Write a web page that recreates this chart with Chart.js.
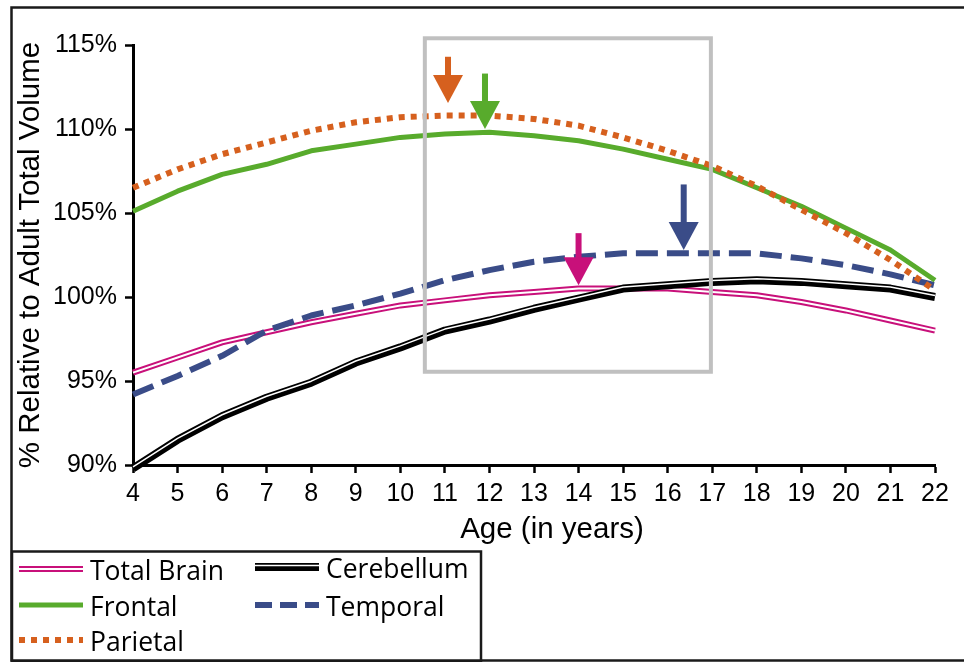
<!DOCTYPE html>
<html>
<head>
<meta charset="utf-8">
<script src="https://cdn.jsdelivr.net/npm/chart.js@4.4.1/dist/chart.umd.min.js"></script>
<style>
  html, body { margin: 0; padding: 0; background: #fff; }
  canvas { display: block; }
</style>
</head>
<body>
<canvas id="brainChart" width="964" height="662"></canvas>
<script>
// === DATA ===
const ages = [4, 5, 6, 7, 8, 9, 10, 11, 12, 13, 14, 15, 16, 17, 18, 19, 20, 21, 22];
const totalBrain = [95.5, 96.4, 97.3, 97.9, 98.5, 99.0, 99.5, 99.8, 100.1, 100.3, 100.5, 100.5, 100.5, 100.3, 100.1, 99.7, 99.2, 98.6, 98.0];
const cerebellum = [89.8, 91.5, 92.9, 94.0, 94.9, 96.1, 97.0, 98.0, 98.6, 99.3, 99.9, 100.5, 100.7, 100.9, 101.0, 100.9, 100.7, 100.5, 100.0];
const frontal = [105.1, 106.3, 107.3, 107.9, 108.7, 109.1, 109.5, 109.7, 109.8, 109.6, 109.3, 108.8, 108.2, 107.6, 106.5, 105.4, 104.1, 102.8, 101.0];
const temporal = [94.2, 95.3, 96.5, 98.0, 98.9, 99.5, 100.2, 101.0, 101.6, 102.1, 102.4, 102.6, 102.6, 102.6, 102.6, 102.3, 101.9, 101.35, 100.7];
const parietal = [106.5, 107.6, 108.5, 109.2, 109.9, 110.4, 110.7, 110.8, 110.8, 110.6, 110.2, 109.5, 108.7, 107.8, 106.6, 105.2, 103.8, 102.2, 100.4];
const yTicks = [90, 95, 100, 105, 110, 115];
const seriesNames = ['Total Brain', 'Cerebellum', 'Frontal', 'Temporal', 'Parietal'];
const xTitle = 'Age (in years)';

// highlighted age window and peak arrows (data units)
const boxAges = [10.55, 16.97];
const boxLevels = [95.55, 115.4];
const arrowAges = [11.07, 11.9, 14.0, 16.36];
const arrowTops = [114.3, 113.3, 103.8, 106.7];
const arrowTips = [111.55, 110.0, 100.7, 102.8];
const arrowColors = ['#d6601e', '#58ab2c', '#c8107a', '#3a4c88'];

const pts = vals => ages.map((a, i) => ({ x: a, y: vals[i] }));

const MAGENTA = '#c8107a', GREEN = '#58ab2c', NAVY = '#3a4c88', ORANGE = '#d6601e';
const axisFont = '"Liberation Sans", Arial, sans-serif';

// index 0 is drawn on top
const datasets = [
  { label: seriesNames[4], data: pts(parietal), borderColor: ORANGE, borderWidth: 6, borderDash: [6, 6], borderCapStyle: 'butt' },
  { label: seriesNames[2], data: pts(frontal), borderColor: GREEN, borderWidth: 5 },
  { label: seriesNames[3], data: pts(temporal), borderColor: NAVY, borderWidth: 6, borderDash: [22, 9], borderCapStyle: 'butt' },
  { label: seriesNames[1] + ' inner', data: pts(cerebellum), borderColor: '#fff', borderWidth: 1.5, shiftY: -1.5 },
  { label: seriesNames[1], data: pts(cerebellum), borderColor: '#000', borderWidth: 8 },
  { label: seriesNames[0] + ' inner', data: pts(totalBrain), borderColor: '#fff', borderWidth: 2 },
  { label: seriesNames[0], data: pts(totalBrain), borderColor: MAGENTA, borderWidth: 6 }
].map(d => Object.assign({ pointRadius: 0, tension: 0, fill: false, clip: false, borderJoinStyle: 'round' }, d));

// legend entries: [name, column, row]
const legendSlots = [
  [seriesNames[0], 0, 0], [seriesNames[1], 1, 0],
  [seriesNames[2], 0, 1], [seriesNames[3], 1, 1],
  [seriesNames[4], 0, 2]
];

function drawSample(ctx, name, x0, x1, y) {
  ctx.save();
  ctx.lineCap = 'butt';
  const line = (color, w, dash, dy) => {
    ctx.beginPath();
    ctx.strokeStyle = color; ctx.lineWidth = w; ctx.setLineDash(dash || []);
    ctx.moveTo(x0, y + (dy || 0)); ctx.lineTo(x1, y + (dy || 0)); ctx.stroke();
  };
  if (name === 'Total Brain') { line(MAGENTA, 6); line('#fff', 2); }
  else if (name === 'Cerebellum') { line('#000', 8); line('#fff', 1.5, null, -1.5); }
  else if (name === 'Frontal') line(GREEN, 5);
  else if (name === 'Temporal') line(NAVY, 6, [17, 8]);
  else if (name === 'Parietal') line(ORANGE, 6, [6, 6]);
  ctx.restore();
}

const decorations = {
  id: 'decorations',
  beforeDatasetDraw(chart, args) {
    const ds = chart.data.datasets[args.index];
    if (ds.shiftY) { chart.ctx.save(); chart.ctx.translate(0, ds.shiftY); }
  },
  afterDatasetDraw(chart, args) {
    const ds = chart.data.datasets[args.index];
    if (ds.shiftY) chart.ctx.restore();
  },
  afterDraw(chart) {
    const { ctx, scales: { x, y } } = chart;
    ctx.save();

    // x axis title (sits a bit right of centre in the original)
    ctx.font = '29.5px ' + axisFont;
    ctx.fillStyle = '#000';
    ctx.textAlign = 'center';
    ctx.textBaseline = 'middle';
    ctx.fillText(xTitle, (x.left + x.right) / 2 + 18, 530);
    ctx.textAlign = 'left';

    // grey window
    const bx0 = x.getPixelForValue(boxAges[0]), bx1 = x.getPixelForValue(boxAges[1]);
    const by0 = y.getPixelForValue(boxLevels[1]), by1 = y.getPixelForValue(boxLevels[0]);
    ctx.strokeStyle = '#c0c0c0';
    ctx.lineWidth = 4;
    ctx.strokeRect(bx0, by0, bx1 - bx0, by1 - by0);

    // arrows
    arrowAges.forEach((a, i) => {
      const ax = x.getPixelForValue(a);
      const top = y.getPixelForValue(arrowTops[i]);
      const tip = y.getPixelForValue(arrowTips[i]);
      const base = tip - 28;
      ctx.fillStyle = arrowColors[i];
      ctx.fillRect(ax - 3, top, 6, base - top + 1);
      ctx.beginPath();
      ctx.moveTo(ax - 15, base);
      ctx.lineTo(ax + 15, base);
      ctx.lineTo(ax, tip);
      ctx.closePath();
      ctx.fill();
    });

    // outer frame
    ctx.strokeStyle = '#1a1a1a';
    ctx.lineWidth = 2.5;
    ctx.strokeRect(11.5, 7.5, 970, 653);

    // legend box
    ctx.lineWidth = 2.5;
    ctx.strokeRect(12, 551.5, 469, 110);
    ctx.font = '26.5px "Open Sans", sans-serif';
    ctx.fillStyle = '#000';
    ctx.textBaseline = 'middle';
    const colX = [19, 255], rowY = [569, 605, 640];
    legendSlots.forEach(([name, c, r]) => {
      const sy = rowY[r] - (c === 1 && r === 0 ? 2 : 0);
      drawSample(ctx, name, colX[c], colX[c] + 64, sy);
      ctx.fillText(name, colX[c] + 71, sy + 3);
    });
    ctx.restore();
  }
};

new Chart(document.getElementById('brainChart'), {
  type: 'line',
  data: { datasets },
  options: {
    responsive: false,
    animation: false,
    devicePixelRatio: 1,
    layout: { padding: { left: 0, top: 45, right: 29, bottom: 0 } },
    plugins: { legend: { display: false }, tooltip: { enabled: false } },
    scales: {
      x: {
        type: 'linear', min: 4, max: 22,
        afterBuildTicks: s => { s.ticks = ages.map(v => ({ value: v })); },
        grid: { drawOnChartArea: false, drawTicks: true, tickLength: 8, tickWidth: 2.5, tickColor: '#000' },
        border: { display: true, color: '#000', width: 3 },
        ticks: { font: { family: axisFont, size: 25 }, color: '#000', padding: 6, maxRotation: 0, autoSkip: false },
        title: { display: false },
        afterFit: s => { s.height = 197; }
      },
      y: {
        min: 90, max: 115,
        afterBuildTicks: s => { s.ticks = yTicks.map(v => ({ value: v })); },
        grid: { drawOnChartArea: false, drawTicks: true, tickLength: 8, tickWidth: 2.5, tickColor: '#000' },
        border: { display: true, color: '#000', width: 3 },
        ticks: { font: { family: axisFont, size: 25 }, color: '#000', padding: 8, callback: v => v + '%' },
        title: { display: true, text: '% Relative to Adult Total Volume', color: '#000', font: { family: axisFont, size: 29.5 }, padding: { top: 13, bottom: 0 } },
        afterFit: s => { s.width = 133; }
      }
    }
  },
  plugins: [decorations]
});
</script>
</body>
</html>
